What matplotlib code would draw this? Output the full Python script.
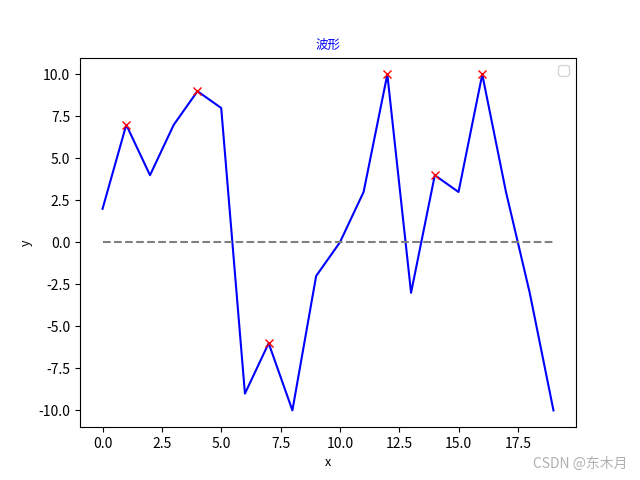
import matplotlib.pyplot as plt
import numpy as np

plt.rcParams['font.family'] = ['Noto Sans CJK SC', 'DejaVu Sans']
plt.rcParams['axes.unicode_minus'] = False

# 波形数据
x = np.arange(20)
y = [2, 7, 4, 7, 9, 8, -9, -6, -10, -2, 0, 3, 10, -3, 4, 3, 10, 3, -3, -10]
# 峰值位置
peaks = [1, 4, 7, 12, 14, 16]

fig = plt.figure(figsize=(6.4, 4.8), dpi=100)
plt.plot(x, y, color='blue')
plt.plot(x[peaks], np.array(y)[peaks], 'x', color='red')
plt.hlines(0, x[0], x[-1], colors='gray', linestyles='dashed')

plt.title('波形', color='blue', fontsize=9)
plt.xlabel('x', fontsize=9)
plt.ylabel('y', fontsize=9)
plt.legend()

fig.text(0.98, 0.02, 'CSDN @东木月', ha='right', va='bottom',
         color='#b0b0b0', fontsize=10)

plt.savefig('out.png', dpi=100)
